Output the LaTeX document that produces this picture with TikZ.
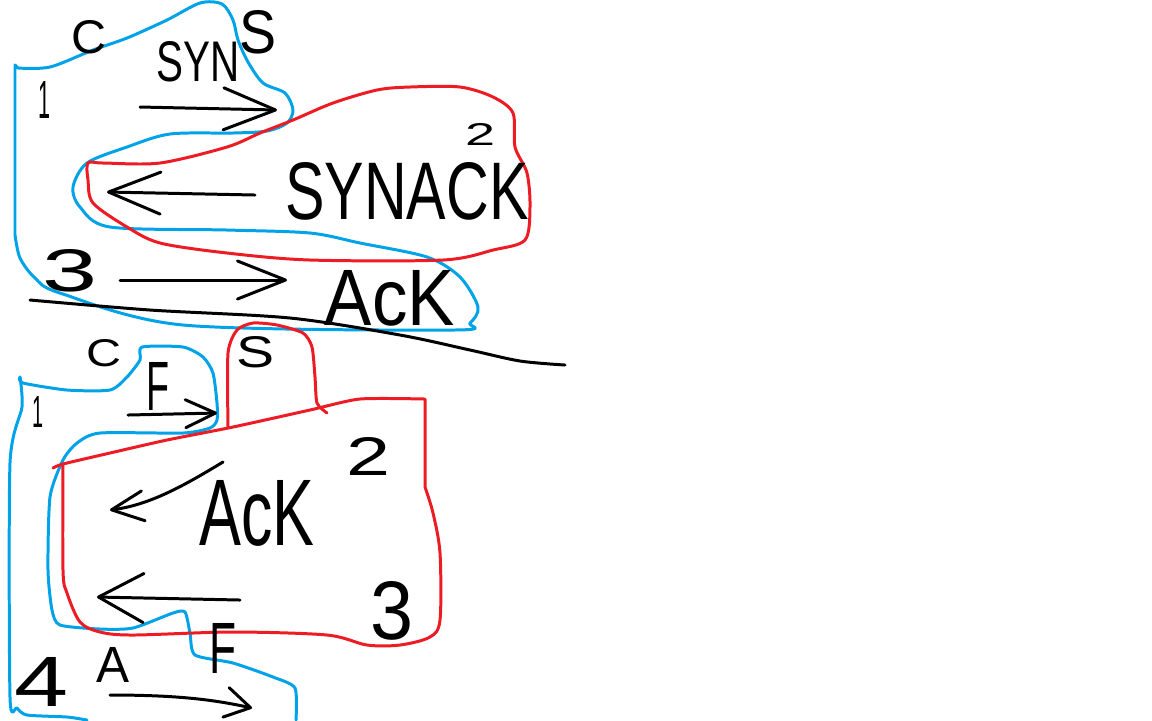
\documentclass[tikz,border=0pt]{standalone}
\usepackage{fontspec}
\setmainfont{Liberation Sans}
\usetikzlibrary{arrows.meta}
\definecolor{pblue}{RGB}{0,162,232}
\definecolor{pred}{RGB}{237,28,36}
\newcommand{\hwtext}[3]{\resizebox{#1}{#2}{#3}}
\begin{document}
\begin{tikzpicture}[x=0.01cm,y=-0.01cm,line cap=round,line join=round,
  stroke/.style={line width=0.85pt},
  bl/.style={stroke,draw=pblue},
  rd/.style={stroke,draw=pred},
  ink/.style={stroke,draw=black},
  txt/.style={inner sep=0pt,outer sep=0pt},
  arr/.style 2 args={ink,-{Straight Barb[round,length=#1,width=#2]}}]
\useasboundingbox[fill=white] (0,0) rectangle (1152,720);

% ---------- top handshake ----------
\draw[bl] (15,235) -- (15,65) -- plot[smooth,tension=0.5] coordinates {(18,68) (50,67) (93,50) (127,38) (167,20) (200,3) (222,4) (233,20) (238,40) (248,62) (263,83) (285,93) (293,110) (287,123) (267,131) (233,133) (170,134) (127,147) (87,163) (73,187) (80,207) (110,227) (227,230) (310,233) (360,243) (427,257) (460,277) (478,307) (470,323) (453,330) (183,325) (60,293) (35,278) (20,258) (15,235)};

\draw[rd] plot[smooth cycle,tension=0.5] coordinates {(88,163) (103,163) (160,163) (227,147) (260,133) (293,120) (333,103) (377,90) (410,87) (460,87) (493,97) (513,113) (515,147) (527,173) (530,207) (525,240) (493,250) (443,260) (310,260) (227,253) (160,243) (127,227) (93,203) (88,180)};

\draw[ink] plot[smooth,tension=0.5] coordinates {(30,300) (150,310) (290,318) (400,335) (470,350) (520,361) (565,365)};

\node[txt] (c1) at (89,37) {\hwtext{3.5mm}{3.3mm}{C}};
\node[txt] (s1) at (258,32) {\hwtext{3.7mm}{4.3mm}{S}};
\node[txt] (one1) at (45,100) {\hwtext{1.2mm}{3.7mm}{1}};
\node[txt] (syn) at (198,62) {\hwtext{8.3mm}{4mm}{SYN}};
\node[txt] (two1) at (480,134) {\hwtext{3mm}{2.2mm}{2}};
\node[txt] (synack) at (407,191) {\hwtext{24.3mm}{5.7mm}{SYNACK}};
\node[txt] (three1) at (70,271) {\hwtext{5.5mm}{4.2mm}{3}};
\node[txt] (ack1) at (390,298) {\hwtext{13mm}{5.5mm}{AcK}};

\coordinate (a1s) at (140,107); \coordinate (a1e) at (277,110);
\coordinate (a2s) at (255,195); \coordinate (a2e) at (107,192);
\coordinate (a3s) at (120,280); \coordinate (a3e) at (287,280);
\draw[arr={5.2mm}{4.2mm}] (a1s) -- (a1e);
\draw[arr={5.2mm}{4.2mm}] (a2s) -- (a2e);
\draw[arr={4.8mm}{3.8mm}] (a3s) -- (a3e);

% ---------- bottom teardown ----------
\draw[bl] plot[smooth,tension=0.4] coordinates {(296,720) (295,688) (273,677) (233,663) (195,655) (190,633) (185,612) (173,613) (133,628) (100,629) (60,625) (52,610) (48,570) (50,497) (63,460) (77,443) (100,433) (183,433) (210,428) (217,420) (217,403) (213,373) (203,357) (183,347) (142,347) (140,360) (127,377) (110,390) (67,390) (23,383) (20,377)};
\draw[bl] plot[smooth,tension=0.4] coordinates {(20,377) (22,407) (10,463) (10,697) (17,708) (27,715) (67,717) (87,720)};

\draw[rd] plot[smooth,tension=0.4] coordinates {(228,427) (228,353) (237,330) (253,323) (277,325) (303,333) (312,347) (315,377) (317,403) (327,413)};

\draw[rd] plot[smooth,tension=0.4] coordinates {(53,468) (63,464) (110,453) (167,440) (233,427) (310,410) (360,399) (425,399)} -- (425,460) -- plot[smooth,tension=0.5] coordinates {(425,487) (433,513) (440,553) (440,620) (430,637) (400,645) (367,645) (327,635) (233,632) (133,635) (100,632) (80,622) (67,593) (63,570) (63,464)};

\node[txt] (c2) at (104,353) {\hwtext{3.5mm}{2.7mm}{C}};
\node[txt] (s2) at (256,352) {\hwtext{3.8mm}{3.1mm}{S}};
\node[txt] (one2) at (38,412) {\hwtext{1.1mm}{3.1mm}{1}};
\node[txt] (f1) at (158,386) {\hwtext{2.3mm}{4.8mm}{F}};
\node[txt] (two2) at (369,456) {\hwtext{4.4mm}{3.8mm}{2}};
\node[txt] (ack2) at (257,513) {\hwtext{11.5mm}{6.5mm}{AcK}};
\node[txt] (three2) at (392,611) {\hwtext{4.3mm}{5.8mm}{3}};
\node[txt] (f2) at (223,648) {\hwtext{2.7mm}{5mm}{F}};
\node[txt] (a) at (113,665) {\hwtext{3.3mm}{3.5mm}{A}};
\node[txt] (four) at (42,682) {\hwtext{5.4mm}{4.9mm}{4}};

\coordinate (b1s) at (128,415); \coordinate (b1e) at (217,413);
\coordinate (b2s) at (223,462); \coordinate (b2e) at (110,510);
\coordinate (b3s) at (240,600); \coordinate (b3e) at (97,597);
\coordinate (b4s) at (110,695); \coordinate (b4e) at (252,708);
\draw[arr={3mm}{2.8mm}] (b1s) -- (b1e);
\draw[arr={3.2mm}{3mm}] (b2s) .. controls (185,485) and (150,505) .. (b2e);
\draw[arr={4.5mm}{4.9mm}] (b3s) -- (b3e);
\draw[arr={2.5mm}{3mm}] (b4s) .. controls (180,695) and (215,700) .. (b4e);
\end{tikzpicture}
\end{document}
